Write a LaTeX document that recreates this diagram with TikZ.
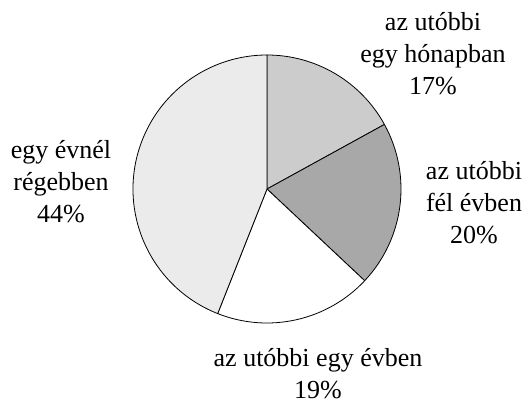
\documentclass[tikz,border=0pt]{standalone}
\usepackage{fontspec}
\setmainfont{Liberation Serif}
\definecolor{hogray}{gray}{0.80}
\definecolor{fegray}{gray}{0.66}
\definecolor{evgray}{gray}{1.00}
\definecolor{regray}{gray}{0.92}
\tikzset{
  slice/.style={draw=black,line width=0.8pt,line join=round},
  lbl/.style={align=center,anchor=base,inner sep=0pt,font=\fontsize{26}{32}\selectfont}
}
\begin{document}
\begin{tikzpicture}[x=1pt,y=1pt]
\useasboundingbox (0,0) rectangle (526,405);
\coordinate (c) at (267,216);
\def\rad{134}
\filldraw[slice,fill=hogray] (c) -- ++(90:\rad) arc[start angle=90,end angle=28.8,radius=\rad] -- cycle;
\filldraw[slice,fill=fegray] (c) -- ++(28.8:\rad) arc[start angle=28.8,end angle=-43.2,radius=\rad] -- cycle;
\filldraw[slice,fill=evgray] (c) -- ++(-43.2:\rad) arc[start angle=-43.2,end angle=-111.6,radius=\rad] -- cycle;
\filldraw[slice,fill=regray] (c) -- ++(248.4:\rad) arc[start angle=248.4,end angle=90,radius=\rad] -- cycle;
% base = baseline of the last line
\node[lbl] (honap) at (433,310) {az utóbbi\\egy hónapban\\17\%};
\node[lbl] (felev) at (474,162) {az utóbbi\\fél évben\\20\%};
\node[lbl] (egyev) at (318,7) {az utóbbi egy évben\\19\%};
\node[lbl] (regebb) at (61,183) {egy évnél\\régebben\\44\%};
\end{tikzpicture}
\end{document}
